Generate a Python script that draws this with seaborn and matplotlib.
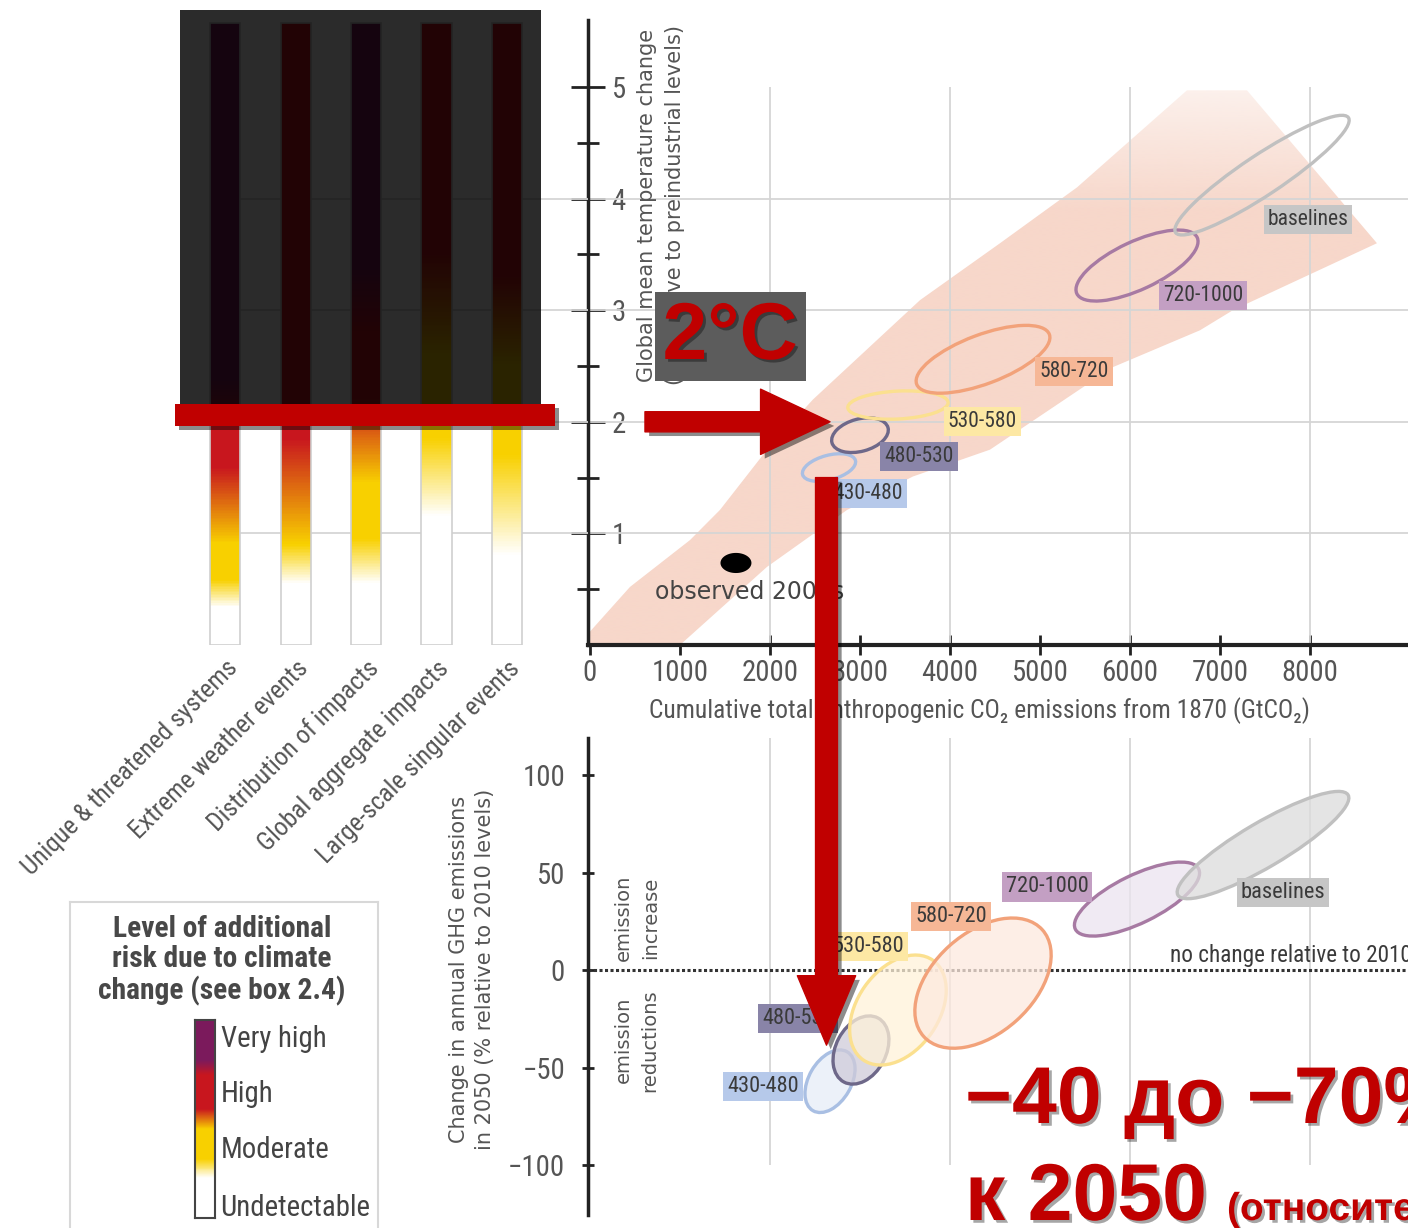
import numpy as np
import matplotlib
matplotlib.use("Agg")
import matplotlib.pyplot as plt
import matplotlib.patheffects as pe
import seaborn as sns
from matplotlib import font_manager
from matplotlib.colors import LinearSegmentedColormap, to_rgba, to_rgb
from matplotlib.patches import Ellipse, Polygon, Rectangle
from matplotlib.path import Path
from matplotlib.transforms import Affine2D

# ---------------- data ----------------
# reasons for concern: temperature stops (deg C) and risk level (0 undetectable .. 3 very high)
risk_names = ["Unique & threatened systems", "Extreme weather events",
              "Distribution of impacts", "Global aggregate impacts",
              "Large-scale singular events"]
risk_temps = [
    [0.0, 0.34, 0.58, 0.91, 1.59, 1.95, 2.4, 5.6],
    [0.0, 0.55, 0.90, 1.85, 5.6],
    [0.0, 0.55, 0.95, 1.45, 2.2, 2.8, 3.4, 5.6],
    [0.0, 1.15, 1.85, 2.6, 3.5, 5.6],
    [0.0, 0.80, 1.70, 2.5, 3.3, 5.6],
]
risk_levels = [
    [0, 0, 1, 1, 2, 2, 3, 3],
    [0, 0, 1, 2, 2],
    [0, 0, 1, 1, 2, 2, 3, 3],
    [0, 0, 1, 1, 2, 2],
    [0, 0, 1, 1, 2, 2],
]
legend_names = ["Undetectable", "Moderate", "High", "Very high"]
legend_name_pos = [0.066, 0.36, 0.64, 0.92]
legend_pos = [0.0, 0.2, 0.3, 0.45, 0.55, 0.72, 0.8, 1.0]
legend_lvl = [0, 0, 1, 1, 2, 2, 3, 3]

# CO2-eq concentration categories (ppm)
scenarios = ["430-480", "480-530", "530-580", "580-720", "720-1000", "baselines"]
# warming vs cumulative CO2 (ellipse centre, spread in screen units, tilt)
temp_cx = [2656, 3000, 3422, 4367, 6078, 7467]
temp_cy = [1.59, 1.88, 2.15, 2.56, 3.40, 4.21]
temp_w = [0.49, 0.52, 0.90, 1.27, 1.19, 1.86]
temp_h = [0.22, 0.29, 0.25, 0.44, 0.43, 0.36]
temp_ang = [15, 15, 3, 20.6, 25, 33.6]
temp_lab_x = [3089, 3656, 4356, 5378, 6811, 7978]
temp_lab_y = [1.36, 1.69, 2.00, 2.45, 3.13, 3.81]
# change in GHG emissions in 2050 vs cumulative CO2
ghg_cx = [2667, 3011, 3422, 4367, 6078, 7478]
ghg_cy = [-57, -41, -20.5, -6.7, 36.4, 64.1]
ghg_w = [0.61, 0.65, 1.09, 1.43, 1.23, 1.77]
ghg_h = [0.38, 0.45, 0.73, 0.90, 0.43, 0.40]
ghg_ang = [60, 62, 55, 42, 26, 30.5]
ghg_lab_x = [1922, 2311, 3089, 4011, 5078, 7700]
ghg_lab_y = [-59.5, -25, 12.3, 27.7, 42.6, 40]

# likely range band of warming
band_x = [0, 444, 1111, 1444, 1967, 2478, 3667, 4556, 5411, 6633, 7300,
          8744, 7144, 6778, 5811, 4444, 3589, 2856, 1967, 1000, 0]
band_y = [0.12, 0.52, 0.94, 1.21, 1.75, 2.2, 3.09, 3.60, 4.10, 4.97, 4.97,
          3.60, 3.0, 2.82, 2.49, 1.75, 1.51, 1.21, 0.70, 0.0, 0.0]
obs_x, obs_y = 1622, 0.735

edge_cols = ["#a9bfe3", "#6e6889", "#fbe08f", "#f2a27a", "#a77aa3", "#c0c0c0"]
fill_cols = ["#e6edf8", "#cfcbd9", "#fff2d9", "#fde9de", "#ebe4ef", "#dcdcdc"]
tag_cols = ["#b6c9ea", "#8984a8", "#fde8a4", "#f6b796", "#c39fc3", "#c6c6c6"]

# ---------------- style ----------------
sns.set_theme(style="white")
fonts = font_manager.fontManager.ttflist
names = {f.name for f in fonts}
NARROW, STRETCH, K = "Liberation Sans", "normal", 1.0
for fam in ["Liberation Sans Narrow", "Roboto Condensed", "Open Sans Condensed",
            "Noto Sans Condensed", "DejaVu Sans Condensed"]:
    if fam in names:
        NARROW, K = fam, 1.15
        break
else:
    for f in fonts:
        if f.name in ("Noto Sans", "Open Sans", "Roboto", "DejaVu Sans") and f.stretch == "condensed":
            NARROW, STRETCH, K = f.name, "condensed", 1.1
            break
plt.rcParams["font.family"] = [NARROW, "DejaVu Sans"]
plt.rcParams["font.stretch"] = STRETCH
WIDE = dict(family="DejaVu Sans", fontstretch="normal")
BOLD = dict(family=["Liberation Sans", "DejaVu Sans"], fontstretch="normal", fontweight="bold")
GREY = "#555555"
GRID = "#d5d5d5"
RED = "#c00000"

risk_cmap = LinearSegmentedColormap.from_list(
    "risk", [(0, "white"), (1 / 3, "#f8d000"), (2 / 3, "#c8161e"), (1, "#7b1a5c")])

W, H = 1408, 1228
fig = plt.figure(figsize=(W / 100, H / 100), dpi=100)


def box(l, t, r, b):
    return [l / W, 1 - b / H, (r - l) / W, (b - t) / H]


ax_top = fig.add_axes(box(588, 20, 1408, 645))
ax_bars = fig.add_axes(box(190, 20, 588, 645))
ax_bot = fig.add_axes(box(588, 738, 1408, 1215))
ax_leg = fig.add_axes(box(70, 902, 378, 1240))
ax_cb = fig.add_axes(box(195, 1020, 215, 1218))
ax_over = fig.add_axes([0, 0, 1, 1])

XLIM = (-22, 9089)
X_UNIT = 1240.0   # GtCO2 that take the same screen length as 1 degC
PCT_UNIT = 57.2   # % that take the same screen length as 1 degC

# ---------------- top: warming ----------------
band = Polygon(np.column_stack([band_x, band_y]), closed=True, fc="none", ec="none")
ax_top.add_patch(band)
gy = np.linspace(0, 5.6, 256)
shade = np.ones((256, 1, 4))
shade[..., :3] = to_rgb("#f7d7ca")
shade[:, 0, 3] = np.interp(gy, [0, 3.9, 5.0, 5.6], [1, 1, 0.35, 0.35])
im = ax_top.imshow(shade, extent=(XLIM[0], XLIM[1], 0, 5.6), origin="lower",
                   aspect="auto", zorder=1, interpolation="bilinear")
im.set_clip_path(band)
ax_top.set_xlim(*XLIM)
ax_top.set_ylim(0, 5.6)
ax_top.hlines([1, 2, 3, 4], XLIM[0], XLIM[1], color=GRID, lw=1.3, zorder=1.5)
ax_top.vlines([2000, 4000, 6000, 8000], 0, 5.0, color=GRID, lw=1.3, zorder=1.5)

tr_top = Affine2D().scale(X_UNIT, 1.0) + ax_top.transData
for i, name in enumerate(scenarios):
    ax_top.add_patch(Ellipse((temp_cx[i] / X_UNIT, temp_cy[i]), temp_w[i], temp_h[i],
                             angle=temp_ang[i], transform=tr_top, fc="none",
                             ec=edge_cols[i], lw=2.4, zorder=3))
    ax_top.text(temp_lab_x[i], temp_lab_y[i], name, ha="center", va="center",
                fontsize=13.5 * K, color="#3a3a3a", zorder=4,
                bbox=dict(boxstyle="square,pad=0.18", fc=tag_cols[i], ec="none"))

t = np.linspace(0, 2 * np.pi, 60)
oval = Path(np.column_stack([np.cos(t), 0.65 * np.sin(t)]))
sns.scatterplot(x=[obs_x], y=[obs_y], marker=oval, s=497, color="black",
                edgecolor="none", ax=ax_top, zorder=5, legend=False)
ax_top.text(722, 0.475, "observed 2000s", ha="left", va="center", fontsize=17,
            color="#444444", zorder=5, **WIDE)

ax_top.set_xticks(np.arange(0, 9000, 1000))
ax_top.set_yticks([1, 2, 3, 4, 5])
ax_top.set_yticks([0.5, 1.5, 2.5, 3.5, 4.5], minor=True)
for s in ["top", "right"]:
    ax_top.spines[s].set_visible(False)
ax_top.spines["left"].set(lw=2.5, color="#222222")
ax_top.spines["bottom"].set(lw=3, color="#222222")
ax_top.tick_params(axis="y", which="major", direction="inout", length=24, width=2,
                   color="#222222", pad=-29, labelsize=18 * K, labelcolor=GREY, left=True)
ax_top.tick_params(axis="y", which="minor", direction="inout", length=16, width=2,
                   color="#222222", left=True)
ax_top.tick_params(axis="x", direction="inout", length=14, width=2, color="#222222",
                   pad=3, labelsize=18 * K, labelcolor=GREY, bottom=True)
for lab in ax_top.get_yticklabels():
    lab.set_ha("left")
ax_top.set_xlabel("Cumulative total anthropogenic CO\u2082 emissions from 1870 (GtCO\u2082)",
                  fontsize=16 * K, color=GREY)
ax_top.xaxis.set_label_coords(0.477, -0.083)
ax_top.text(0.089, 0.704, "Global mean temperature change\n(\u00b0C relative to preindustrial levels)",
            transform=ax_top.transAxes, rotation=90, ha="center", va="center",
            fontsize=15, color=GREY, linespacing=1.45, **WIDE)

# ---------------- reasons for concern bars ----------------
ax_bars.set_xlim(-0.5, 5.15)
ax_bars.set_ylim(0, 5.6)
ax_bars.hlines([1, 2, 3, 4], -0.22, 5.15, color=GRID, lw=1.3, zorder=0)
bw = 0.43
yedges = np.linspace(0, 5.57, 401)
ymid = (yedges[:-1] + yedges[1:]) / 2
for i in range(len(risk_names)):
    vals = np.interp(ymid, risk_temps[i], risk_levels[i])
    ax_bars.pcolormesh([i - bw / 2, i + bw / 2], yedges, vals[:, None], cmap=risk_cmap,
                       vmin=0, vmax=3, shading="flat", zorder=2)
    ax_bars.add_patch(Rectangle((i - bw / 2, 0), bw, 5.57, fill=False, ec="#cfcfcf",
                                lw=1.2, zorder=3))
ax_bars.set_xticks(range(len(risk_names)))
ax_bars.set_xticklabels(risk_names, rotation=45, ha="right", rotation_mode="anchor")
ax_bars.tick_params(axis="x", length=0, pad=8, labelsize=16 * K, labelcolor=GREY)
ax_bars.set_yticks([])
for s in ax_bars.spines.values():
    s.set_visible(False)
ax_bars.patch.set_alpha(0)

# ---------------- bottom: emissions change ----------------
ax_bot.set_xlim(*XLIM)
ax_bot.set_ylim(-125.6, 119)
ax_bot.vlines([2000, 4000, 6000, 8000], -100, 119, color=GRID, lw=1.3, zorder=0)
ax_bot.axhline(0, color="#333333", lw=2.2, ls=(0, (1, 0.8)), zorder=1.5)
tr_bot = Affine2D().scale(X_UNIT, PCT_UNIT) + ax_bot.transData
for i, name in enumerate(scenarios):
    ax_bot.add_patch(Ellipse((ghg_cx[i] / X_UNIT, ghg_cy[i] / PCT_UNIT), ghg_w[i], ghg_h[i],
                             angle=ghg_ang[i], transform=tr_bot,
                             fc=to_rgba(fill_cols[i], 0.75), ec=edge_cols[i], lw=2.4,
                             zorder=3))
    ax_bot.text(ghg_lab_x[i], ghg_lab_y[i], name, ha="center", va="center",
                fontsize=14 * K, color="#3a3a3a", zorder=4,
                bbox=dict(boxstyle="square,pad=0.18", fc=tag_cols[i], ec="none"))
ax_bot.text(6444, 7.7, "no change relative to 2010", ha="left", va="center",
            fontsize=14.5 * K, color="#3a3a3a", zorder=4)
ax_bot.text(522, 27, "emission\nincrease", rotation=90, ha="center", va="center",
            fontsize=14, color=GREY, linespacing=1.5, **WIDE)
ax_bot.text(522, -36, "emission\nreductions", rotation=90, ha="center", va="center",
            fontsize=14, color=GREY, linespacing=1.5, **WIDE)
ax_bot.text(-0.1415, 0.514, "Change in annual GHG emissions\nin 2050 (% relative to 2010 levels)",
            transform=ax_bot.transAxes, rotation=90, ha="center", va="center",
            fontsize=15, color=GREY, linespacing=1.4, **WIDE)
ax_bot.set_xticks([])
ax_bot.set_yticks([-100, -50, 0, 50, 100])
ax_bot.set_yticklabels(["\u2212100", "\u221250", "0", "50", "100"])
for s in ["top", "right", "bottom"]:
    ax_bot.spines[s].set_visible(False)
ax_bot.spines["left"].set(lw=2.5, color="#222222")
ax_bot.tick_params(axis="y", direction="inout", length=9, width=2, color="#222222",
                   pad=12, labelsize=18 * K, labelcolor=GREY, left=True)
ax_bot.patch.set_alpha(0)

# ---------------- risk legend ----------------
ax_leg.set_xticks([])
ax_leg.set_yticks([])
ax_leg.set_facecolor("white")
for s in ax_leg.spines.values():
    s.set(color="#d8d8d8", lw=1.5)
ax_leg.text(0.4935, 0.962, "Level of additional\nrisk due to climate\nchange (see box 2.4)",
            transform=ax_leg.transAxes, ha="center", va="top", fontsize=18.5 * K,
            fontweight="bold", color="#484848", linespacing=1.12)
ledges = np.linspace(0, 1, 201)
lmid = (ledges[:-1] + ledges[1:]) / 2
ax_cb.pcolormesh([0, 1], ledges, np.interp(lmid, legend_pos, legend_lvl)[:, None],
                 cmap=risk_cmap, vmin=0, vmax=3, shading="flat")
ax_cb.set_xlim(0, 1)
ax_cb.set_ylim(0, 1)
ax_cb.set_xticks([])
ax_cb.yaxis.tick_right()
ax_cb.set_yticks(legend_name_pos)
ax_cb.set_yticklabels(legend_names)
ax_cb.tick_params(axis="y", length=0, pad=4, labelsize=18 * K, labelcolor="#444444")
for s in ax_cb.spines.values():
    s.set(color="#444444", lw=1.5)

# ---------------- red annotations ----------------
ax_over.set_xlim(0, W)
ax_over.set_ylim(H, 0)
ax_over.axis("off")
ax_over.set_zorder(10)
shadow = [pe.SimplePatchShadow(offset=(3, -3), shadow_rgbFace="black", alpha=0.45), pe.Normal()]
tshadow = [pe.SimplePatchShadow(offset=(2, -2), shadow_rgbFace="black", alpha=0.35), pe.Normal()]

ax_over.add_patch(Rectangle((180, 10), 361, 400, fc="black", ec="none", alpha=0.83))
ax_over.add_patch(Rectangle((175, 404), 380, 22, fc=RED, ec="none", path_effects=shadow))
ax_over.add_patch(Rectangle((655, 292), 151, 89, fc="#5c5c5c", ec="none"))
ax_over.text(730, 338, "2\u00b0C", ha="center", va="center", fontsize=58,
             color=RED, path_effects=tshadow, **BOLD)

target_temp = 2.0
ax_over.annotate("", xy=(2667, target_temp), xycoords=ax_top.transData,
                 xytext=(611, target_temp), textcoords=ax_top.transData,
                 arrowprops=dict(arrowstyle="simple,head_length=5.0,head_width=4.7,tail_width=1.45",
                                 mutation_scale=10, shrinkA=0, shrinkB=0, color=RED,
                                 path_effects=shadow))
ax_over.annotate("", xy=(2628, -38.5), xycoords=ax_bot.transData,
                 xytext=(2628, 1.50), textcoords=ax_top.transData,
                 arrowprops=dict(arrowstyle="simple,head_length=5.0,head_width=4.2,tail_width=1.58",
                                 mutation_scale=10, shrinkA=0, shrinkB=0, color=RED,
                                 path_effects=shadow))

ax_over.text(965, 1123, "\u221240 до \u221270%", ha="left", va="baseline", fontsize=58,
             color=RED, path_effects=tshadow, **BOLD)
ax_over.text(965, 1220, "к 2050", ha="left", va="baseline", fontsize=58,
             color=RED, path_effects=tshadow, **BOLD)
ax_over.text(1227, 1220, "(относительно 2010 г.)", ha="left", va="baseline", fontsize=28,
             color=RED, path_effects=tshadow, **BOLD)

fig.savefig("out.png", dpi=100)
